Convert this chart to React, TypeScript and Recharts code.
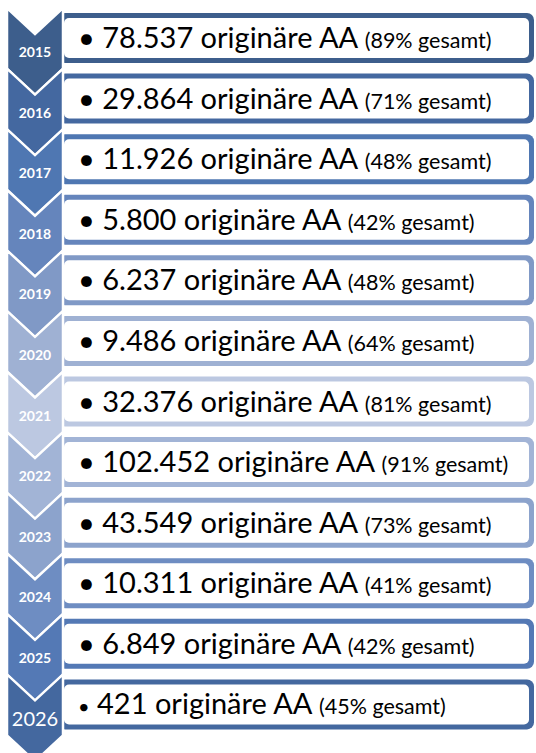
import { BarChart, Bar, XAxis, YAxis } from 'recharts'

// Jahr, originäre AA, Anteil gesamt
const years = ['2015', '2016', '2017', '2018', '2019', '2020', '2021', '2022', '2023', '2024', '2025', '2026']
const originaere = [78537, 29864, 11926, 5800, 6237, 9486, 32376, 102452, 43549, 10311, 6849, 421]
const gesamtPct = [89, 71, 48, 42, 48, 64, 81, 91, 73, 41, 42, 45]

const colors = [
  '#3d5e8c', '#4468a0', '#4f77b2', '#6585bc', '#8099c6', '#9fb1d3',
  '#bcc8e1', '#a2b4d6', '#8ca3cc', '#6e8dc2', '#5479b5', '#44689f',
]

const FONT = 'Lato, "Open Sans", sans-serif'

const fmt = (n: number) => String(n).replace(/\B(?=(\d{3})+(?!\d))/g, '.')

const data = years.map((year, i) => ({
  year,
  count: originaere[i],
  pct: gesamtPct[i],
  full: 1,
}))

function Row(props: any) {
  const { x, y, width, height, index, payload } = props
  const color = colors[index]
  const last = index === years.length - 1
  // chevron
  const x0 = x + 7
  const x1 = x + 63
  const cx = (x0 + x1) / 2
  const d = 26
  const chevron = `M${x0},${y} L${cx},${y + d} L${x1},${y} L${x1},${y + height} L${cx},${y + height + d} L${x0},${y + height} Z`
  // box
  const bx = x + 58
  const bw = width - 59
  const by = y + 5
  const bh = 50
  return (
    <g>
      <rect x={bx} y={by} width={bw} height={bh} rx={7} fill={color} />
      <rect x={bx + 6} y={by + 5} width={bw - 11} height={bh - 10} rx={5} fill="#fff" />
      <path d={chevron} fill={color} stroke="#fff" strokeWidth={2.5} strokeLinejoin="miter" />
      <text
        x={cx}
        y={y + (last ? 52 : 49)}
        textAnchor="middle"
        fill="#fff"
        fontFamily={FONT}
        fontWeight={last ? 400 : 700}
        fontSize={last ? 20 : 14}
      >
        {payload.year}
      </text>
      <text x={x + 78} y={y + 40} fill="#000" fontFamily={FONT}>
        <tspan fontSize={last ? 20 : 29}>{'•'}</tspan>
        <tspan fontSize={29}>{` ${fmt(payload.count)} originäre AA `}</tspan>
        <tspan fontSize={21.5}>{`(${payload.pct}% gesamt)`}</tspan>
      </text>
    </g>
  )
}

export default function App() {
  return (
    <div style={{ position: 'absolute', left: 0, top: 0, background: '#fff' }}>
      <BarChart
        width={536}
        height={753}
        data={data}
        layout="vertical"
        margin={{ top: 8, right: 1, left: 0, bottom: 18 }}
        barCategoryGap={0}
      >
        <XAxis type="number" domain={[0, 1]} hide />
        <YAxis type="category" dataKey="year" hide />
        <Bar dataKey="full" shape={<Row />} isAnimationActive={false} />
      </BarChart>
    </div>
  )
}
